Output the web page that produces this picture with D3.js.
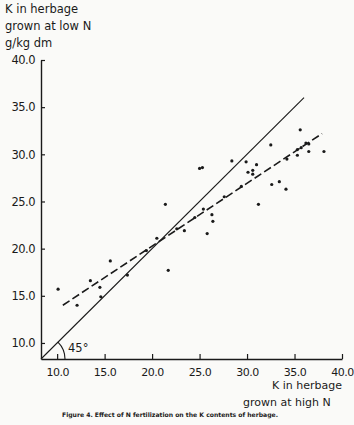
<!DOCTYPE html>
<html lang="en">
  <head>
    <meta charset="UTF-8" />
    <title>Figure 4</title>
    <script src="https://cdn.jsdelivr.net/npm/d3@7"></script>
  </head>
  <body>
    <svg></svg>
    <style>
      body {
        margin: 0;
        background: #fafaf8;
      }
      svg {
        width: 354px;
        height: 425px;
        display: block;
      }
      text {
        font-family: "DejaVu Sans", sans-serif;
        fill: #1a1a1a;
      }
    </style>
    <script>
      // K at high N (x) vs K at low N (y), g/kg dm
      const highN = [10.1, 12.1, 13.5, 14.5, 14.6, 15.6, 17.4, 19.4, 20.5, 21.4, 21.7, 22.6, 23.4, 24.5,
        25.0, 25.3, 25.4, 25.8, 26.3, 26.4, 27.6, 28.4, 29.4, 29.9, 30.1, 30.6, 30.6, 31.0, 31.2,
        32.5, 32.6, 33.4, 34.1, 34.2, 35.3, 35.3, 35.6, 35.7, 36.2, 36.5, 36.5, 38.1];
      const lowN = [15.7, 14.0, 16.6, 15.9, 14.9, 18.7, 17.2, 19.8, 21.1, 24.7, 17.7, 22.1, 21.9, 23.3,
        28.5, 28.6, 24.2, 21.6, 23.6, 22.9, 25.5, 29.3, 26.6, 29.2, 28.1, 28.3, 27.9, 28.9, 24.7,
        31.0, 26.8, 27.1, 26.3, 29.5, 30.5, 29.9, 32.6, 30.7, 31.2, 31.1, 30.3, 30.3];
      const tickValues = [10, 15, 20, 25, 30, 35, 40];
      const oneToOne = [[8.3, 8.3], [36.0, 36.0]];
      const regression = [[10.6, 14.0], [37.9, 32.2]];

      const svg = d3.select("svg");
      const x = d3.scaleLinear().domain([8.3, 40]).range([41, 342]);
      const y = d3.scaleLinear().domain([8.3, 40]).range([359, 60]);
      const fmt = d3.format(".1f");

      // axes, ticks pointing inwards
      const xAxis = svg.append("g").attr("transform", "translate(0,359)")
        .call(d3.axisBottom(x).tickValues(tickValues).tickSizeInner(-5).tickSizeOuter(0).tickPadding(9).tickFormat(fmt));
      const yAxis = svg.append("g").attr("transform", "translate(41,0)")
        .call(d3.axisLeft(y).tickValues(tickValues).tickSizeInner(-4).tickSizeOuter(0).tickPadding(10).tickFormat(fmt));
      [xAxis, yAxis].forEach(a => {
        a.select(".domain").attr("stroke", "#1a1a1a").attr("stroke-width", 1.4);
        a.selectAll(".tick line").attr("stroke", "#1a1a1a").attr("stroke-width", 1.2);
        a.selectAll(".tick text").attr("font-family", "DejaVu Sans").attr("font-size", 11.5)
          .attr("letter-spacing", -0.5).attr("fill", "#1a1a1a");
      });
      yAxis.selectAll(".tick text").attr("x", -6);
      xAxis.selectAll(".tick text").attr("font-size", 11);

      const line = d3.line().x(d => x(d[0])).y(d => y(d[1]));
      svg.append("path").attr("d", line(oneToOne))
        .attr("fill", "none").attr("stroke", "#1a1a1a").attr("stroke-width", 1.1);
      svg.append("path").attr("d", line(regression))
        .attr("fill", "none").attr("stroke", "#1a1a1a").attr("stroke-width", 1.6)
        .attr("stroke-dasharray", "8,3.5");

      // 45 degree arc
      const arc = d3.arc().innerRadius(24).outerRadius(24).startAngle(Math.PI / 4).endAngle(Math.PI / 2);
      svg.append("path").attr("d", arc()).attr("transform", `translate(${x(8.3)},${y(8.3)})`)
        .attr("fill", "none").attr("stroke", "#1a1a1a").attr("stroke-width", 1.1);
      svg.append("text").attr("x", 68).attr("y", 352).attr("font-size", 11.5).text("45°");

      svg.append("g").selectAll("circle")
        .data(highN)
        .join("circle")
        .attr("cx", d => x(d))
        .attr("cy", (d, i) => y(lowN[i]))
        .attr("r", 1.6)
        .attr("fill", "#1a1a1a");

      // axis titles
      const yTitle = ["K in herbage", "grown at low N", "g/kg dm"];
      svg.append("g").selectAll("text").data(yTitle).join("text")
        .attr("x", 5).attr("y", (d, i) => 13 + i * 17)
        .attr("font-size", 11.5).text(d => d);
      svg.append("text").attr("x", 272).attr("y", 389).attr("font-size", 11)
        .text("K in herbage");
      svg.append("text").attr("x", 243).attr("y", 406).attr("font-size", 11)
        .text("grown at high N");

      svg.append("text").attr("x", 62).attr("y", 417)
        .attr("font-family", "Liberation Serif").attr("font-weight", "bold").attr("font-size", 6.2)
        .attr("textLength", 216).attr("lengthAdjust", "spacingAndGlyphs")
        .text("Figure 4.  Effect of N fertilization on the K contents of herbage.");
    </script>
  </body>
</html>
